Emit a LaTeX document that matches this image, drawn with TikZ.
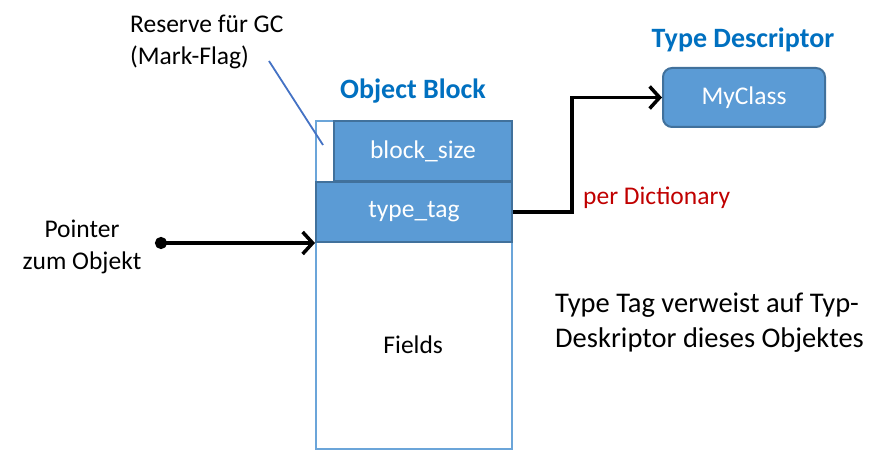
\documentclass[tikz,border=0pt]{standalone}
\usepackage{fontspec}
\setmainfont{Carlito}
\usetikzlibrary{arrows.meta}
\definecolor{cellblue}{HTML}{5B9BD5}
\definecolor{celledge}{HTML}{41719C}
\definecolor{headblue}{HTML}{0070C0}
\definecolor{noteblue}{HTML}{4472C4}
\definecolor{dictred}{HTML}{C00000}
\tikzset{
  cell/.style={fill=cellblue, draw=celledge, line width=2pt, text=white, anchor=north west, inner sep=0pt},
  frame/.style={draw=cellblue!90!white, line width=2pt, anchor=north west, inner sep=0pt},
  head/.style={text=headblue, font=\fontsize{28}{34}\selectfont\bfseries},
  link/.style={line width=3.5pt, -{Straight Barb[length=10pt,width=22pt]}},
}
\begin{document}
\begin{tikzpicture}[x=1pt, y=-1pt, font=\fontsize{25.5}{32}\selectfont]
    \useasboundingbox (0,0) rectangle (883,462);
    % object block frame and fields
    \node[frame, minimum width=196pt, minimum height=328pt] (block) at (315,120) {};
    \node[anchor=north west, minimum width=196pt, minimum height=207pt, inner sep=0pt] (fields) at (315,241) {Fields};
    % header cells
    \foreach \name/\txt/\x/\w in {size/block\_size/333/178, tag/type\_tag/315/196} {
      \pgfmathsetmacro{\yy}{\x == 333 ? 120 : 181}
      \node[cell, minimum width=\w pt, minimum height=60pt] (\name) at (\x,\yy) {\txt};
    }
    \node[head] (blocktitle) at (413,91) {Object Block};
    % type descriptor
    \node[head] (desctitle) at (743,40) {Type Descriptor};
    \node[cell, rounded corners=9pt, minimum width=162pt, minimum height=59pt] (cls) at (662,67) {MyClass};
    \draw[link] (tag.east) -- ++(59,0) |- (cls.west);
    \node[text=dictred, anchor=west, inner sep=0pt] (dict) at (583,198) {per Dictionary};
    % pointer
    \node[align=center, inner sep=0pt] (ptrlabel) at (82,247) {Pointer\\zum Objekt};
    \coordinate (ptr) at (155,0 |- tag.south west);
    \draw[link, {Circle[length=12pt]}-{Straight Barb[length=10pt,width=22pt]}] (ptr) -- (tag.south west);
    % mark flag note
    \node[align=left, anchor=west, inner sep=0pt] (reserve) at (130,42) {Reserve für GC\\(Mark-Flag)};
    \coordinate (gcfrom) at (269,61);
    \coordinate (gcto) at (323,145);
    \draw[noteblue, line width=1.8pt] (gcfrom) -- (gcto);
    % explanation
    \node[align=left, anchor=west, inner sep=0pt, font=\fontsize{28.5}{35}\selectfont] (note) at (555,323) {Type Tag verweist auf Typ-\\Deskriptor dieses Objektes};
\end{tikzpicture}
\end{document}
